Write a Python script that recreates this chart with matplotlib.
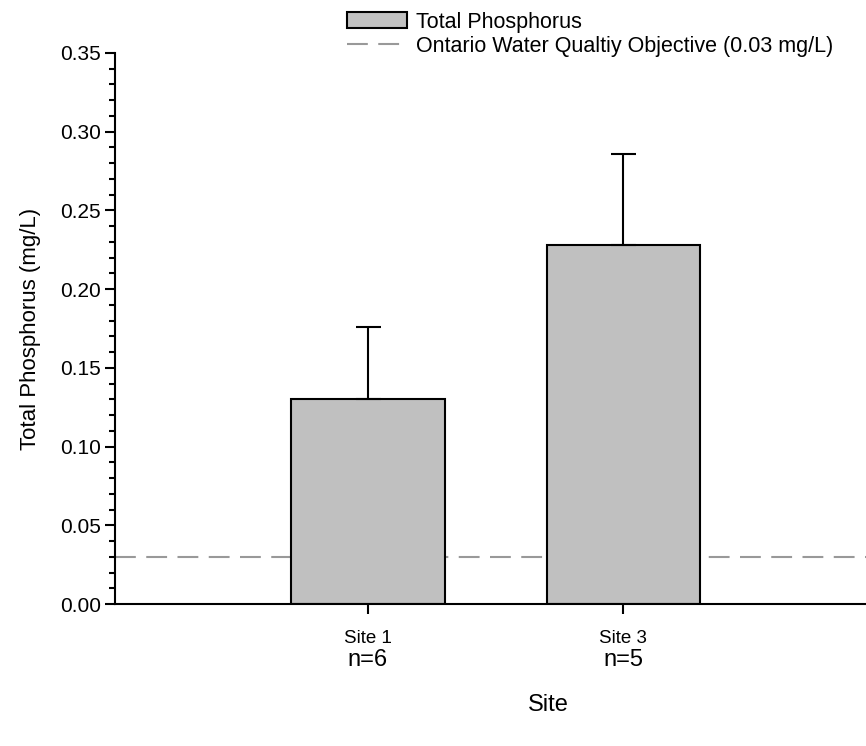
import matplotlib.pyplot as plt
from matplotlib.ticker import MultipleLocator

plt.rcParams['font.family'] = ['Liberation Sans', 'DejaVu Sans']

# data
sites = ['Site 1', 'Site 3']
counts = ['n=6', 'n=5']
tp_mean = [0.130, 0.228]
tp_err = [0.046, 0.058]
pwqo = 0.03

x = [1, 2]

fig = plt.figure(figsize=(8.66, 7.46), dpi=100)
ax = fig.add_axes([115 / 866, 1 - 604 / 746, 1 - 115 / 866, (604 - 53) / 746])

bars = ax.bar(x, tp_mean, width=0.6, color='#c0c0c0', edgecolor='black',
              linewidth=1.5, label='Total Phosphorus', zorder=2)
ax.errorbar(x, tp_mean, yerr=[[0, 0], tp_err], fmt='none', ecolor='black',
            elinewidth=1.5, capsize=9, capthick=1.5, zorder=3)
obj = ax.axhline(pwqo, color='#999999', linestyle=(0, (10, 5)), linewidth=1.5,
                 label='Ontario Water Qualtiy Objective (0.03 mg/L)', zorder=1)

ax.set_xlim(0.01, 2.95)
ax.set_ylim(0, 0.35)
ax.yaxis.set_major_locator(MultipleLocator(0.05))
ax.yaxis.set_minor_locator(MultipleLocator(0.01))
ax.yaxis.set_major_formatter(plt.FormatStrFormatter('%.2f'))
ax.tick_params(axis='y', which='major', direction='out', length=7, width=1.5,
               labelsize=15, pad=3)
ax.tick_params(axis='y', which='minor', direction='out', length=4, width=1.5)
ax.set_xticks(x)
ax.set_xticklabels(sites)
ax.tick_params(axis='x', direction='out', length=7, width=1.5, labelsize=13.5, pad=12)

# sample size under each site label
for xi, n in zip(x, counts):
    ax.text(xi, -56 / 1574, n, ha='center', va='center', fontsize=17,
            clip_on=False)

for s in ['top', 'right']:
    ax.spines[s].set_visible(False)
for s in ['left', 'bottom']:
    ax.spines[s].set_linewidth(1.5)

ax.set_ylabel('Total Phosphorus (mg/L)', fontsize=16, labelpad=14)
fig.text(548 / 866, 1 - 705 / 746, 'Site', ha='center', va='center', fontsize=17)

fig.legend(handles=[bars, obj], loc='upper left', bbox_to_anchor=(336 / 866, 1 - 1 / 746),
           frameon=False, fontsize=15.5, handlelength=2.8, handleheight=0.75,
           labelspacing=0.15, handletextpad=0.42, borderpad=0.0)

fig.savefig('out.png', dpi=100)
